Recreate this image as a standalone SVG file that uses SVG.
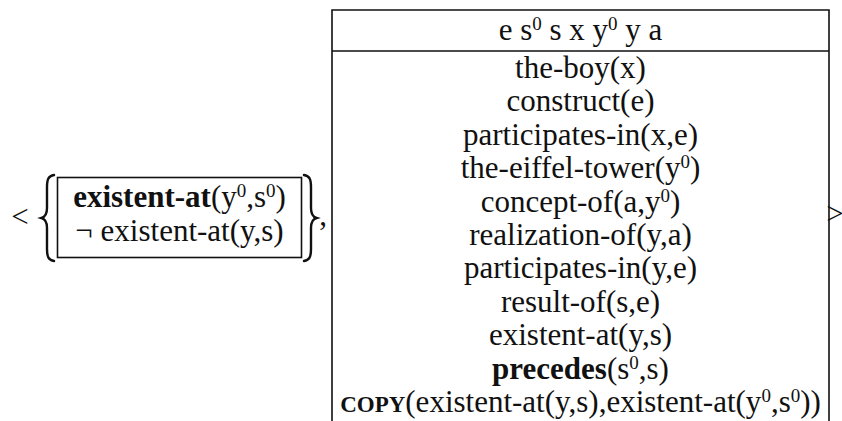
<svg xmlns="http://www.w3.org/2000/svg" width="842" height="421" viewBox="0 0 842 421">
<style>
.t { font-family: "Liberation Serif", "Times New Roman", serif; font-size: 31px; fill: #111; text-anchor: middle; }
.b { font-weight: bold; }
.sc { font-weight: bold; font-size: 23px; }
.sup { font-size: 19px; }
.ln { stroke: #111; fill: none; stroke-width: 1.6; }
.br { stroke: #111; fill: none; stroke-width: 2.4; stroke-linecap: round; }
</style>
<rect width="842" height="421" fill="#fff"/>

<g id="open-angle">
  <text class="t" x="20" y="227">&lt;</text>
</g>

<g id="left-set">
  <path class="br" d="M54,175 C48.5,176 47,179 47,187 L47,208 C47,214 45,217 41.5,218 C45,219 47,222 47,228 L47,249 C47,257 48.5,260 54,261"/>
  <rect class="ln" x="57.5" y="177.5" width="244" height="80"/>
  <text class="t" x="179.5" y="207"><tspan class="b">existent-at</tspan>(y<tspan class="sup" dy="-10">0</tspan><tspan dy="10">,s</tspan><tspan class="sup" dy="-10">0</tspan><tspan dy="10">)</tspan></text>
  <text class="t" x="179.5" y="241">¬ existent-at(y,s)</text>
  <path class="br" d="M304,175 C309.5,176 311,179 311,187 L311,208 C311,214 313,217 316.5,218 C313,219 311,222 311,228 L311,249 C311,257 309.5,260 304,261"/>
  <text class="t" x="323" y="225">,</text>
</g>

<g id="drs-box">
  <path class="ln" d="M332,421 L332,10 L829,10 L829,421 M332,51 L829,51"/>
  <text class="t" x="580.5" y="40">e s<tspan class="sup" dy="-10">0</tspan><tspan dy="10"> s x y</tspan><tspan class="sup" dy="-10">0</tspan><tspan dy="10"> y a</tspan></text>
  <text class="t" x="580.5" y="78">the-boy(x)</text>
  <text class="t" x="580.5" y="111.4">construct(e)</text>
  <text class="t" x="580.5" y="144.8">participates-in(x,e)</text>
  <text class="t" x="580.5" y="178.2">the-eiffel-tower(y<tspan class="sup" dy="-10">0</tspan><tspan dy="10">)</tspan></text>
  <text class="t" x="580.5" y="211.6">concept-of(a,y<tspan class="sup" dy="-10">0</tspan><tspan dy="10">)</tspan></text>
  <text class="t" x="580.5" y="245">realization-of(y,a)</text>
  <text class="t" x="580.5" y="278.4">participates-in(y,e)</text>
  <text class="t" x="580.5" y="311.8">result-of(s,e)</text>
  <text class="t" x="580.5" y="345.2">existent-at(y,s)</text>
  <text class="t" x="580.5" y="378.6"><tspan class="b">precedes</tspan>(s<tspan class="sup" dy="-10">0</tspan><tspan dy="10">,s)</tspan></text>
  <text class="t" x="580.5" y="412"><tspan class="sc">COPY</tspan>(existent-at(y,s),existent-at(y<tspan class="sup" dy="-10">0</tspan><tspan dy="10">,s</tspan><tspan class="sup" dy="-10">0</tspan><tspan dy="10">))</tspan></text>
</g>

<g id="close-angle">
  <text class="t" x="835" y="224">&gt;</text>
</g>
</svg>
